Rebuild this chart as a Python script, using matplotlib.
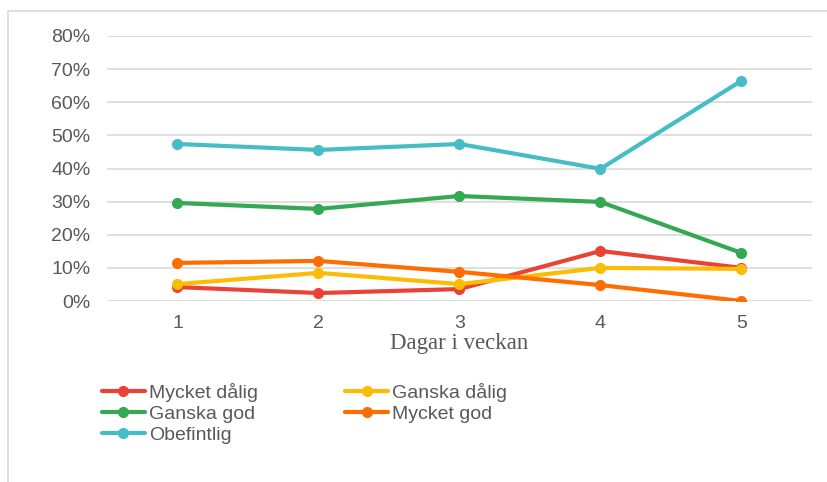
import matplotlib
matplotlib.use("Agg")
import matplotlib.pyplot as plt
from matplotlib.patches import Rectangle
from matplotlib.ticker import PercentFormatter

# data
days = [1, 2, 3, 4, 5]
mycket_dalig = [0.042, 0.024, 0.036, 0.151, 0.100]
ganska_dalig = [0.051, 0.085, 0.051, 0.100, 0.097]
ganska_god = [0.296, 0.278, 0.317, 0.299, 0.145]
mycket_god = [0.115, 0.121, 0.088, 0.048, 0.000]
obefintlig = [0.474, 0.456, 0.474, 0.399, 0.665]

series = [
    ("Mycket dålig", mycket_dalig, "#EA4335"),
    ("Ganska dålig", ganska_dalig, "#FBBC04"),
    ("Ganska god", ganska_god, "#34A853"),
    ("Mycket god", mycket_god, "#FF6D01"),
    ("Obefintlig", obefintlig, "#46BDC6"),
]

W, H = 828, 482
fig = plt.figure(figsize=(W / 100, H / 100), dpi=100)
ax = fig.add_axes([107 / W, 1 - 301 / H, (812 - 107) / W, (301 - 36) / H])

# light frame round the chart
fig.patches.append(Rectangle((8 / W, -0.05), 1.1, 1 - 11 / H + 0.05,
                             transform=fig.transFigure, fill=False,
                             edgecolor="#d9d9d9", linewidth=1.2))

lines = {}
for name, vals, col in series:
    ln, = ax.plot(days, vals, color=col, linewidth=3, marker="o",
                  markersize=7, label=name, solid_capstyle="round")
    lines[name] = ln

ax.set_xlim(0.5, 5.5)
ax.set_ylim(0, 0.8)
ax.set_yticks([i / 10 for i in range(9)])
ax.set_xticks(days)
ax.yaxis.set_major_formatter(PercentFormatter(1.0, decimals=0))
ax.grid(axis="y", color="#d9d9d9", linewidth=1.2)
ax.set_axisbelow(True)
for s in ax.spines.values():
    s.set_visible(False)
ax.tick_params(length=0, labelsize=14, labelcolor="#595959")
ax.tick_params(axis="x", pad=10)
ax.tick_params(axis="y", pad=12)
for lab in ax.get_xticklabels() + ax.get_yticklabels():
    lab.set_family("Liberation Sans")

ax.set_xlabel("Dagar i veckan", family="Liberation Serif", fontsize=16.5,
              color="#595959", labelpad=1)

# legend is row-major in the picture, matplotlib fills columns first
order = ["Mycket dålig", "Ganska god", "Obefintlig", "Ganska dålig", "Mycket god"]
leg = fig.legend([lines[n] for n in order], order, ncol=2,
                 loc="upper left", bbox_to_anchor=(102 / W, 1 - 383 / H),
                 frameon=False, handlelength=2.2, borderpad=0,
                 borderaxespad=0, handletextpad=0.2, columnspacing=4.5,
                 labelspacing=0.17,
                 prop={"family": "Liberation Sans", "size": 14})
for t in leg.get_texts():
    t.set_color("#595959")

fig.savefig("out.png", dpi=100)
